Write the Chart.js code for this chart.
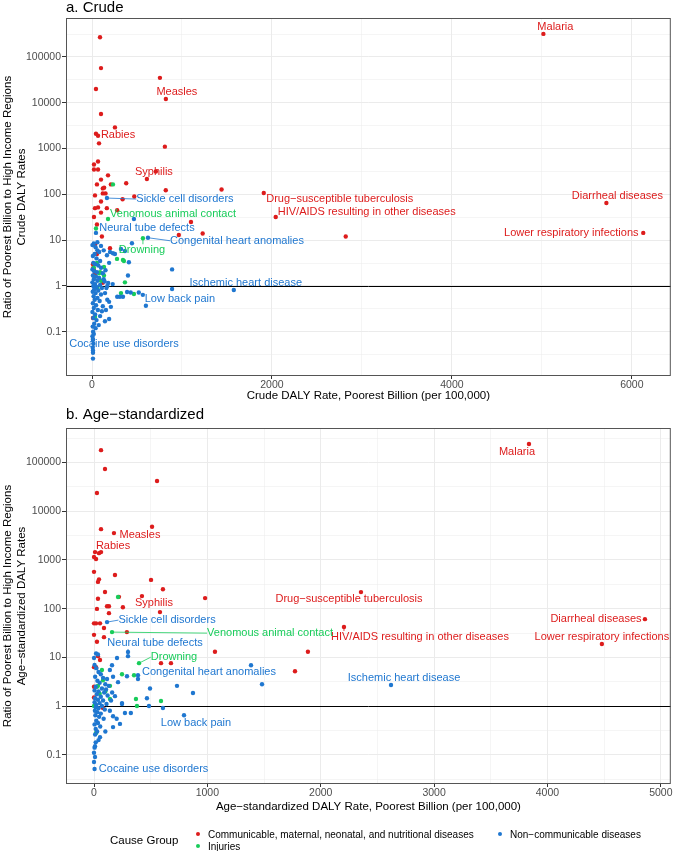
<!DOCTYPE html>
<html>
<head>
<meta charset="utf-8">
<script src="https://cdn.jsdelivr.net/npm/chart.js@4.4.1/dist/chart.umd.min.js"></script>
<style>
  body { margin: 0; background: #fff; width: 673px; height: 851px; overflow: hidden;
         font-family: "Liberation Sans", Arial, sans-serif; position: relative; }
  canvas { position: absolute; left: 0; }
  #crude { top: 0; }
  #agestd { top: 405px; }
  #legend { position: absolute; left: 0; top: 819px; width: 673px; height: 32px; color: #000; }
  #legend .ttl { position: absolute; left: 110px; top: 14px; font-size: 11.5px; line-height: 14px; }
  #legend .it { position: absolute; font-size: 10px; line-height: 12px; white-space: nowrap; }
  #legend .dot { display: inline-block; width: 4px; height: 4px; border-radius: 50%; margin-right: 8px; vertical-align: 2px; }
</style>
</head>
<body>
<canvas id="crude" width="673" height="406"></canvas>
<canvas id="agestd" width="673" height="412"></canvas>
<div id="legend">
  <div class="ttl">Cause Group</div>
  <div class="it" style="left:196px; top:10px;"><span class="dot" style="background:#DD1C1C"></span>Communicable, maternal, neonatal, and nutritional diseases</div>
  <div class="it" style="left:498px; top:10px;"><span class="dot" style="background:#1F77D0"></span>Non&minus;communicable diseases</div>
  <div class="it" style="left:196px; top:22px;"><span class="dot" style="background:#18CC5A"></span>Injuries</div>
</div>
<script>
// ---- colours per cause group
var groupColors = { comm: "#DD1C1C", ncd: "#1F77D0", inj: "#18CC5A" };

// ---- axis ticks
var logMajorTicks = [0.01, 0.1, 1, 10, 100, 1000, 10000, 100000, 1000000];
var crudeXMajor = [0, 2000, 4000, 6000];
var crudeXMinor = [1000, 3000, 5000];
var ageXMajor = [0, 1000, 2000, 3000, 4000, 5000];
var ageXMinor = [500, 1500, 2500, 3500, 4500];

// ---- a. Crude: [DALY rate poorest billion, ratio to high income]
var crudeComm = [
  [89, 270000], [100, 57000], [44, 20000], [755, 35000], [100, 5700], [255, 2900], [44, 2100],
  [78, 1300], [810, 1100], [22, 450], [67, 520], [22, 350], [67, 350], [178, 260], [100, 210],
  [380, 175], [710, 316], [55, 165], [210, 165], [120, 135], [135, 140], [820, 123], [1440, 128],
  [33, 95], [470, 90], [120, 105], [150, 105], [340, 78], [100, 70], [33, 50], [67, 52], [100, 40],
  [165, 50], [280, 45], [22, 32], [55, 22], [1100, 25], [965, 13], [1230, 14], [110, 12], [200, 6.7],
  [33, 8], [55, 5], [22, 2.2], [120, 1.17], [11, 0.2], [2820, 12], [11, 3], [15, 2.5], [30, 1.8]
];
var crudeNcd = [
  [466, 29], [444, 8.6], [890, 2.3], [890, 0.86], [400, 1.7], [410, 3.3], [200, 5.5], [233, 5.2],
  [166, 4.7], [322, 6.4], [366, 5.8], [255, 5], [280, 0.58], [310, 0.58], [344, 0.58], [390, 0.74],
  [430, 0.72], [520, 0.72], [565, 0.64], [180, 1.16], [190, 0.45], [190, 3.2], [210, 0.35], [155, 0.3],
  [190, 0.19], [144, 0.17], [11, 0.039], [11, 0.035], [11, 0.026],
  [5, 7.8], [20, 8.5], [40, 7], [60, 6], [30, 5], [80, 5.5], [10, 4.5], [50, 4], [90, 3.5], [15, 3.2],
  [35, 3], [70, 2.8], [100, 2.5], [5, 2.3], [25, 2.1], [55, 2], [120, 1.9], [10, 1.7], [45, 1.6],
  [80, 1.5], [20, 1.4], [60, 1.3], [140, 1.25], [5, 1.2], [35, 1.1], [90, 1.05], [15, 1.0], [50, 0.95],
  [110, 0.9], [25, 0.85], [70, 0.8], [8, 0.75], [40, 0.7], [100, 0.65], [18, 0.6], [60, 0.55], [30, 0.5],
  [85, 0.47], [10, 0.42], [45, 0.38], [120, 0.36], [20, 0.33], [65, 0.3], [5, 0.27], [35, 0.24], [90, 0.22],
  [15, 0.2], [50, 0.18], [25, 0.15], [8, 0.13], [40, 0.12], [12, 0.1], [20, 0.09], [5, 0.08], [10, 0.07],
  [15, 0.055], [8, 0.045], [160, 0.9], [150, 2.2], [130, 1.4], [170, 1.0], [145, 0.7], [110, 0.28],
  [75, 0.14], [230, 1.1], [60, 9], [100, 7.5], [130, 6], [170, 0.5]
];
var crudeInj = [
  [44, 18], [233, 165], [278, 3.9], [355, 3.5], [366, 1.2], [322, 0.7], [466, 0.67], [133, 2.6],
  [55, 3.2], [133, 1.7], [33, 0.21], [78, 1.9], [344, 3.7], [20, 2.5], [100, 1.3], [60, 0.9],
  [30, 1.6], [90, 2.0]
];
var crudeNamed = [
  { name: "Malaria", group: "comm", x: 5017, y: 318000 },
  { name: "Diarrheal diseases", group: "comm", x: 5717, y: 65 },
  { name: "Lower respiratory infections", group: "comm", x: 6127, y: 14.4 },
  { name: "Drug\u2212susceptible tuberculosis", group: "comm", x: 1909, y: 107 },
  { name: "HIV/AIDS resulting in other diseases", group: "comm", x: 2042, y: 32 },
  { name: "Measles", group: "comm", x: 821, y: 12100 },
  { name: "Rabies", group: "comm", x: 67, y: 1900 },
  { name: "Syphilis", group: "comm", x: 610, y: 216 },
  { name: "Sickle cell disorders", group: "ncd", x: 166, y: 83 },
  { name: "Venomous animal contact", group: "inj", x: 178, y: 29 },
  { name: "Neural tube defects", group: "ncd", x: 44, y: 14.4 },
  { name: "Congenital heart anomalies", group: "ncd", x: 622, y: 11.3 },
  { name: "Drowning", group: "inj", x: 566, y: 11.0 },
  { name: "Ischemic heart disease", group: "ncd", x: 1576, y: 0.82 },
  { name: "Low back pain", group: "ncd", x: 599, y: 0.37 },
  { name: "Cocaine use disorders", group: "ncd", x: 11, y: 0.066 }
];

// ---- b. Age-standardized
var ageComm = [
  [62, 180000], [97, 74000], [26, 23700], [556, 42000], [62, 4300], [512, 4800], [9, 1450], [44, 1380],
  [0, 1150], [18, 1050], [0, 570], [44, 400], [35, 355], [185, 490], [503, 390], [608, 250], [97, 220],
  [220, 175], [980, 165], [35, 160], [255, 107], [132, 112], [115, 112], [26, 99], [132, 81], [582, 85],
  [0, 50], [18, 50], [53, 50], [88, 40], [290, 33], [0, 29], [26, 21], [88, 26], [1067, 13], [1887, 13],
  [1773, 5.2], [591, 7.6], [679, 7.6], [35, 10.6], [53, 8.8], [0, 6.3], [18, 6.3], [0, 2.5], [0, 1.5],
  [79, 0.91]
];
var ageNcd = [
  [0, 9.7], [18, 12], [35, 11.5], [159, 6.9], [203, 9.7], [300, 10.6], [291, 4.1], [388, 3.6], [494, 2.3],
  [732, 2.6], [873, 1.85], [1385, 6.9], [1482, 2.8], [467, 1.45], [485, 1.0], [247, 1.15], [608, 0.91],
  [273, 0.72], [325, 0.72], [168, 0.62], [229, 0.43], [168, 0.37], [53, 0.23], [9, 0.15], [0, 0.11],
  [0, 0.071], [9, 0.09], [168, 4.0], [212, 3.1], [115, 3.6], [185, 1.6], [247, 1.1], [106, 2.2],
  [5, 7], [20, 6], [40, 5], [60, 4.5], [10, 4], [80, 3.8], [30, 3.3], [50, 3], [100, 2.8], [15, 2.5],
  [70, 2.3], [5, 2.1], [40, 2], [90, 1.9], [25, 1.75], [120, 1.65], [60, 1.55], [10, 1.45], [35, 1.35],
  [80, 1.3], [5, 1.2], [50, 1.15], [110, 1.1], [20, 1.05], [70, 1.0], [15, 0.95], [40, 0.9], [95, 0.85],
  [8, 0.8], [30, 0.75], [60, 0.7], [12, 0.65], [45, 0.6], [85, 0.55], [20, 0.5], [35, 0.45], [5, 0.42],
  [55, 0.38], [15, 0.34], [28, 0.3], [10, 0.26], [40, 0.2], [15, 0.18], [5, 0.14], [150, 1.3], [140, 0.8],
  [130, 2.6], [160, 1.9], [140, 5.5], [200, 0.55], [100, 0.3]
];
var ageInj = [
  [212, 174], [247, 4.5], [353, 4.3], [70, 5.5], [35, 2.6], [26, 2.5], [141, 2.6], [141, 1.4], [370, 1.4],
  [591, 1.27], [379, 1.0], [18, 0.28], [0, 1.0], [79, 3.4], [50, 1.8], [100, 2.0]
];
var ageNamed = [
  { name: "Malaria", group: "comm", x: 3837, y: 240000 },
  { name: "Diarrheal diseases", group: "comm", x: 4860, y: 61 },
  { name: "Lower respiratory infections", group: "comm", x: 4480, y: 18.8 },
  { name: "Drug\u2212susceptible tuberculosis", group: "comm", x: 2355, y: 219 },
  { name: "HIV/AIDS resulting in other diseases", group: "comm", x: 2205, y: 42 },
  { name: "Measles", group: "comm", x: 176, y: 3560 },
  { name: "Rabies", group: "comm", x: 62, y: 1450 },
  { name: "Syphilis", group: "comm", x: 423, y: 181 },
  { name: "Sickle cell disorders", group: "ncd", x: 115, y: 53 },
  { name: "Venomous animal contact", group: "inj", x: 159, y: 33 },
  { name: "Neural tube defects", group: "ncd", x: 300, y: 12.9 },
  { name: "Drowning", group: "inj", x: 397, y: 7.6 },
  { name: "Congenital heart anomalies", group: "ncd", x: 388, y: 4.3 },
  { name: "Ischemic heart disease", group: "ncd", x: 2620, y: 2.7 },
  { name: "Low back pain", group: "ncd", x: 794, y: 0.65 },
  { name: "Cocaine use disorders", group: "ncd", x: 5, y: 0.051 }
];

// label placement (pixel offset of text centre from its point, draw a segment?)
var crudePlace = {
  "Malaria": [12, -7, 0], "Diarrheal diseases": [11, -7, 0], "Lower respiratory infections": [-72, 0, 0],
  "Drug\u2212susceptible tuberculosis": [76, 6, 0], "HIV/AIDS resulting in other diseases": [91, -5, 0],
  "Measles": [11, -7, 0], "Rabies": [20, -1, 0], "Syphilis": [7, -7, 0], "Sickle cell disorders": [78, 1, 1],
  "Venomous animal contact": [65, -5, 0], "Neural tube defects": [51, -5, 0],
  "Congenital heart anomalies": [89, 3, 1], "Drowning": [-1, 12, 1], "Ischemic heart disease": [12, -7, 0],
  "Low back pain": [34, -7, 0], "Cocaine use disorders": [31, 4, 0]
};
var agePlace = {
  "Malaria": [-12, 8, 0], "Diarrheal diseases": [-49, 0, 0], "Lower respiratory infections": [0, -7, 0],
  "Drug\u2212susceptible tuberculosis": [-12, 7, 0], "HIV/AIDS resulting in other diseases": [76, 10, 1],
  "Measles": [26, 2, 0], "Rabies": [12, -6, 0], "Syphilis": [12, 7, 0], "Sickle cell disorders": [60, -2, 1],
  "Venomous animal contact": [158, 1, 1], "Neural tube defects": [27, -9, 1], "Drowning": [35, -6, 1],
  "Congenital heart anomalies": [71, -3, 0], "Ischemic heart disease": [13, -7, 0],
  "Low back pain": [12, 8, 0], "Cocaine use disorders": [59, 0, 0]
};

var FONT = '"Liberation Sans", Arial, sans-serif';

function isMajorLog(v) {
  var l = Math.log10(v);
  return Math.abs(l - Math.round(l)) < 1e-6;
}

function toPoints(arr, named, group) {
  var pts = arr.map(function (p) { return { x: p[0], y: p[1] }; });
  named.forEach(function (n) { if (n.group === group) pts.push({ x: n.x, y: n.y }); });
  return pts;
}

// panel title, border, reference line at ratio 1, and the repelled labels
var panelPlugin = {
  id: "panel",
  beforeDatasetsDraw: function (chart) {
    var ctx = chart.ctx, a = chart.chartArea;
    var y1 = Math.round(chart.scales.y.getPixelForValue(1)) + 0.5;
    ctx.save();
    ctx.strokeStyle = "#000";
    ctx.lineWidth = 1;
    ctx.beginPath();
    ctx.moveTo(a.left, y1);
    ctx.lineTo(a.right, y1);
    ctx.stroke();
    ctx.restore();
  },
  afterDatasetsDraw: function (chart) {
    var ctx = chart.ctx, a = chart.chartArea, cfg = chart.options.panel;
    var xs = chart.scales.x, ys = chart.scales.y;
    ctx.save();
    ctx.font = "11px " + FONT;
    ctx.textAlign = "center";
    ctx.textBaseline = "middle";
    cfg.named.forEach(function (n) {
      var pl = cfg.place[n.name];
      var px = xs.getPixelForValue(n.x), py = ys.getPixelForValue(n.y);
      var lx = px + pl[0], ly = py + pl[1];
      var col = groupColors[n.group];
      if (pl[2]) {
        var w = ctx.measureText(n.name).width;
        var ex = Math.max(lx - w / 2, Math.min(px, lx + w / 2));
        var ey = Math.abs(ly - py) > 6 ? (ly > py ? ly - 6 : ly + 6) : ly;
        ctx.strokeStyle = col;
        ctx.lineWidth = 0.8;
        ctx.beginPath();
        ctx.moveTo(px, py);
        ctx.lineTo(ex, ey);
        ctx.stroke();
      }
      ctx.fillStyle = col;
      ctx.fillText(n.name, lx, ly);
    });
    // panel border
    ctx.strokeStyle = "#555";
    ctx.lineWidth = 1;
    ctx.strokeRect(a.left + 0.5, a.top + 0.5, a.right - a.left - 1, a.bottom - a.top - 1);
    // title
    ctx.fillStyle = "#000";
    ctx.font = "15px " + FONT;
    ctx.textAlign = "left";
    ctx.fillText(cfg.title, a.left, cfg.titleY);
    ctx.restore();
  }
};

function makeChart(id, p) {
  var ds = [
    { data: toPoints(p.ncd, p.named, "ncd"), backgroundColor: groupColors.ncd },
    { data: toPoints(p.inj, p.named, "inj"), backgroundColor: groupColors.inj },
    { data: toPoints(p.comm, p.named, "comm"), backgroundColor: groupColors.comm }
  ];
  ds.forEach(function (d) { d.pointRadius = 2.2; d.borderWidth = 0; d.pointHoverRadius = 2.2; });

  var yTicks = [];
  logMajorTicks.forEach(function (v) { yTicks.push(v); yTicks.push(v * Math.sqrt(10)); });
  yTicks = yTicks.filter(function (v) { return v >= p.ymin && v <= p.ymax; });
  var xTicks = p.xMajor.concat(p.xMinor).filter(function (v) { return v >= p.xmin && v <= p.xmax; })
    .sort(function (a, b) { return a - b; });

  return new Chart(document.getElementById(id), {
    type: "scatter",
    data: { datasets: ds },
    options: {
      responsive: false,
      animation: false,
      events: [],
      panel: { title: p.title, titleY: p.titleY, named: p.named, place: p.place },
      layout: { padding: { top: p.padTop, right: 2, left: 0, bottom: 0 } },
      plugins: { legend: { display: false }, tooltip: { enabled: false } },
      scales: {
        x: {
          type: "linear", min: p.xmin, max: p.xmax, bounds: "data",
          afterFit: function (s) { s.height = p.xAxisH; },
          afterBuildTicks: function (s) { s.ticks = xTicks.map(function (v) { return { value: v }; }); },
          border: { display: false },
          grid: {
            color: "#EBEBEB",
            lineWidth: function (c) { return p.xMajor.indexOf(c.tick.value) >= 0 ? 1 : 0.5; },
            tickColor: function (c) { return p.xMajor.indexOf(c.tick.value) >= 0 ? "#333" : "rgba(0,0,0,0)"; },
            tickLength: 3, tickWidth: 1
          },
          ticks: {
            autoSkip: false, maxRotation: 0, padding: 0, color: "#4D4D4D",
            font: { family: FONT, size: 10.5 },
            callback: function (v) { return p.xMajor.indexOf(v) >= 0 ? String(v) : ""; }
          },
          title: {
            display: true, text: p.xTitle, color: "#000",
            font: { family: FONT, size: 11.5, lineHeight: "14px" },
            padding: { top: 0, bottom: p.xTitlePad }
          }
        },
        y: {
          type: "logarithmic", min: p.ymin, max: p.ymax, bounds: "data",
          afterFit: function (s) { s.width = 66; },
          afterBuildTicks: function (s) { s.ticks = yTicks.map(function (v) { return { value: v }; }); },
          border: { display: false },
          grid: {
            color: "#EBEBEB",
            lineWidth: function (c) { return isMajorLog(c.tick.value) ? 1 : 0.5; },
            tickColor: function (c) { return isMajorLog(c.tick.value) ? "#333" : "rgba(0,0,0,0)"; },
            tickLength: 4, tickWidth: 1
          },
          ticks: {
            autoSkip: false, padding: 1, color: "#4D4D4D",
            font: { family: FONT, size: 10.5 },
            callback: function (v) {
              if (!isMajorLog(v)) return "";
              return v >= 1 ? String(Math.round(v)) : String(Number(v.toPrecision(1)));
            }
          },
          title: {
            display: true, text: p.yTitle, color: "#000",
            font: { family: FONT, size: 11.5, lineHeight: "14px" },
            padding: { top: 1, bottom: 0 }
          }
        }
      }
    },
    plugins: [panelPlugin]
  });
}

makeChart("crude", {
  title: "a. Crude", titleY: 8, padTop: 18, xAxisH: 30, xTitlePad: 3,
  comm: crudeComm, ncd: crudeNcd, inj: crudeInj, named: crudeNamed, place: crudePlace,
  xmin: -289, xmax: 6433, ymin: 0.01084, ymax: 708000,
  xMajor: crudeXMajor, xMinor: crudeXMinor,
  xTitle: "Crude DALY Rate, Poorest Billion (per 100,000)",
  yTitle: ["Ratio of Poorest Billion to High Income Regions", "Crude DALY Rates"]
});

makeChart("agestd", {
  title: "b. Age\u2212standardized", titleY: 10, padTop: 23, xAxisH: 33, xTitlePad: 3,
  comm: ageComm, ncd: ageNcd, inj: ageInj, named: ageNamed, place: agePlace,
  xmin: -247, xmax: 5088, ymin: 0.0251, ymax: 513000,
  xMajor: ageXMajor, xMinor: ageXMinor,
  xTitle: "Age\u2212standardized DALY Rate, Poorest Billion (per 100,000)",
  yTitle: ["Ratio of Poorest Billion to High Income Regions", "Age\u2212standardized DALY Rates"]
});
</script>
</body>
</html>
